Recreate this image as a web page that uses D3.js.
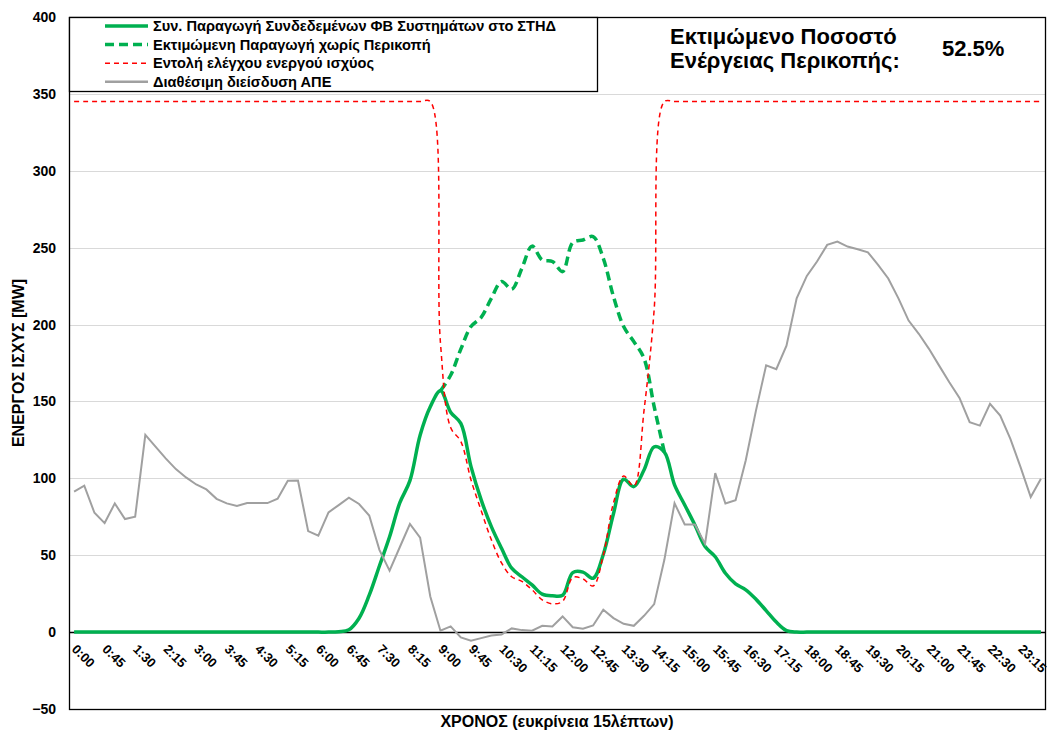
<!DOCTYPE html>
<html>
<head>
<meta charset="utf-8">
<script src="https://cdn.jsdelivr.net/npm/d3@7"></script>
<style>
    body { margin: 0; background: #fff; }
    svg text { font-family: Arial, "Liberation Sans", sans-serif; font-weight: bold; fill: #000; }
</style>
</head>
<body>
<div id="chart"></div>
<script>
// 96 quarter-hour values, 0:00 .. 23:45
const generation = [
    0, 0, 0, 0, 0, 0, 0, 0, 0, 0, 0, 0, 0, 0, 0, 0, 0, 0, 0, 0, 0, 0, 0, 0, 0, 0,
    0.3, 1.5, 9, 24, 43, 62, 84, 98.5, 128, 146.5, 157, 143, 135.7, 107.6, 86, 68.6, 54.5, 41.6, 36, 30.7,
    24.7, 23.6, 24, 38.7, 39, 35, 50.5, 77, 99.4, 94.6, 105.4, 120.5, 117, 95.7, 82.7, 69.7, 55.6, 49, 38.3, 31.4,
    27.5, 21.4, 14, 6.5, 1,
    0, 0, 0, 0, 0, 0, 0, 0, 0, 0, 0, 0, 0, 0, 0, 0, 0, 0, 0, 0, 0, 0, 0, 0, 0
]
const estimated = [
    null, null, null, null, null, null, null, null, null, null, null, null, null, null, null, null, null, null,
    null, null, null, null, null, null, null, null, null, null, null, null, null, null, null, null, null, null,
    157, 167, 184, 198.7, 204.7, 217, 228, 223, 236.6, 251, 242, 241, 234.4, 253.3, 255, 257.2, 243, 218.2,
    198.7, 188.9, 178, 146.6, 117,
    null, null, null, null, null, null, null, null, null, null, null, null, null, null, null, null, null, null, null,
    null, null, null, null, null, null, null, null, null, null, null, null, null, null, null, null, null, null
]
const command = [
    345, 345, 345, 345, 345, 345, 345, 345, 345, 345, 345, 345, 345, 345, 345, 345, 345, 345,
    345, 345, 345, 345, 345, 345, 345, 345, 345, 345, 345, 345, 345, 345, 345, 345, 345, 345,
    188, 133, 124, 99, 79, 60, 45, 36, 33, 27.5, 21, 18.4, 20, 35.5, 34.6, 30, 50, 84, 101.5, 95, 144, 210,
    345, 345, 345, 345, 345, 345, 345, 345, 345, 345, 345, 345, 345, 345, 345, 345, 345, 345, 345,
    345, 345, 345, 345, 345, 345, 345, 345, 345, 345, 345, 345, 345, 345, 345, 345, 345, 345, 345
]
const penetration = [
    91.3, 95.2, 77.6, 70.9, 83.7, 73.5, 75, 128.2, 120.6, 113, 106, 100.6, 96, 92.8, 86.7, 83.7,
    82, 83.9, 83.9, 83.9, 86.7, 98.4, 98.6, 65.7, 62.7, 77.9, 82.6, 87.4, 83.3, 75.8, 53.5, 40,
    55.2, 70.3, 61.5, 23.2, 0.9, 3.7, -3.5, -5.6, -3.9, -2.2, -1.5, 2.4, 1.3, 0.9, 4.1, 3.7,
    10.2, 3.2, 2.2, 4.3, 14.5, 9.1, 5.4, 4.1, 10.6, 18.2, 47, 83.8, 70, 70, 57.4, 103.4,
    83.6, 85.8, 111.8, 144, 173.5, 171, 186.3, 217, 231.6, 241, 251.8, 254, 250.7, 249, 247, 238.8,
    230, 217, 202.6, 194, 184.2, 173.3, 162.5, 152.3, 136.5, 134.3, 148.4, 140.8, 125.7, 107.3, 87.8, 99.7
]
const tickLabels = ["0:00", "0:45", "1:30", "2:15", "3:00", "3:45", "4:30", "5:15", "6:00", "6:45", "7:30",
    "8:15", "9:00", "9:45", "10:30", "11:15", "12:00", "12:45", "13:30", "14:15", "15:00", "15:45", "16:30",
    "17:15", "18:00", "18:45", "19:30", "20:15", "21:00", "21:45", "22:30", "23:15"]
const seriesNames = ["Συν. Παραγωγή Συνδεδεμένων ΦΒ Συστημάτων στο ΣΤΗΔ", "Εκτιμώμενη Παραγωγή χωρίς Περικοπή",
    "Εντολή ελέγχου ενεργού ισχύος", "Διαθέσιμη διείσδυση ΑΠΕ"]

const width = 1047;
const height = 733;
const plotL = 69, plotR = 1046, plotT = 17, plotB = 709;

const svg = d3.select("#chart").append("svg")
    .attr("width", width)
    .attr("height", height)

const x = d3.scalePoint().domain(d3.range(penetration.length)).range([plotL, plotR]).padding(0.5)
const y = d3.scaleLinear().domain([-50, 400]).range([plotB, plotT])

//gridlines
svg.append("g").selectAll("line").data(y.ticks(9)).join("line")
    .attr("x1", plotL).attr("x2", plotR)
    .attr("y1", d => Math.round(y(d)) + 0.5).attr("y2", d => Math.round(y(d)) + 0.5)
    .attr("stroke", "#d9d9d9")

//zero axis line
svg.append("line")
    .attr("x1", plotL).attr("x2", plotR)
    .attr("y1", Math.round(y(0)) + 0.5).attr("y2", Math.round(y(0)) + 0.5)
    .attr("stroke", "#000").attr("stroke-width", 1.3)

//y axis labels
svg.append("g")
    .attr("transform", `translate(${plotL}, 0)`)
    .call(d3.axisLeft(y).ticks(9).tickSize(0).tickPadding(13))
    .call(g => g.select(".domain").remove())
    .selectAll("text")
    .style("font-size", "14px")

//x tick labels, every 3rd quarter
svg.append("g").selectAll("text").data(tickLabels).join("text")
    .attr("transform", (d, i) => `translate(${x(i * 3) - 3}, ${650}) rotate(45)`)
    .style("font-size", "13px")
    .text(d => d)

const smooth = d3.curveCatmullRom.alpha(0.5)
const lineOf = (arr, curve) => d3.line()
    .defined(d => d !== null)
    .x((d, i) => x(i))
    .y(d => y(d))
    .curve(curve)(arr)

const plot = svg.append("g")
plot.append("path").attr("d", lineOf(generation, smooth))
    .attr("fill", "none").attr("stroke", "#00b050").attr("stroke-width", 3.5)
plot.append("path").attr("d", lineOf(estimated, smooth))
    .attr("fill", "none").attr("stroke", "#00b050").attr("stroke-width", 3.5)
    .attr("stroke-dasharray", "9,5")
plot.append("path").attr("d", lineOf(command, smooth))
    .attr("fill", "none").attr("stroke", "#ff0000").attr("stroke-width", 1.5)
    .attr("stroke-dasharray", "5,4")
plot.append("path").attr("d", lineOf(penetration, d3.curveLinear))
    .attr("fill", "none").attr("stroke", "#a0a0a0").attr("stroke-width", 2)

//plot border
svg.append("rect")
    .attr("x", plotL + 0.5).attr("y", plotT + 0.5)
    .attr("width", plotR - plotL - 1).attr("height", plotB - plotT)
    .attr("fill", "none").attr("stroke", "#000").attr("stroke-width", 1.3)

//legend
const legend = svg.append("g")
legend.append("rect")
    .attr("x", 69.5).attr("y", 17.5).attr("width", 528).attr("height", 74)
    .attr("fill", "#fff").attr("stroke", "#000").attr("stroke-width", 1.3)
const legendStyles = [
    { color: "#00b050", w: 3.5, dash: null },
    { color: "#00b050", w: 3.5, dash: "9,5" },
    { color: "#ff0000", w: 1.5, dash: "5,4" },
    { color: "#a0a0a0", w: 2.5, dash: null }
]
seriesNames.forEach((name, i) => {
    const ly = 26 + i * 18.6
    legend.append("line")
        .attr("x1", 105).attr("x2", 148).attr("y1", ly).attr("y2", ly)
        .attr("stroke", legendStyles[i].color).attr("stroke-width", legendStyles[i].w)
        .attr("stroke-dasharray", legendStyles[i].dash)
    legend.append("text")
        .attr("x", 153).attr("y", ly).attr("dy", "0.35em")
        .style("font-size", "14.6px")
        .text(name)
})

//curtailment annotation
svg.append("text").attr("x", 670).attr("y", 44).style("font-size", "22px").text("Εκτιμώμενο Ποσοστό")
svg.append("text").attr("x", 670).attr("y", 68).style("font-size", "22px").text("Ενέργειας Περικοπής:")
svg.append("text").attr("x", 942).attr("y", 56).style("font-size", "22px").text("52.5%")

//axis titles
svg.append("text")
    .attr("transform", `translate(24, ${(plotT + plotB) / 2}) rotate(-90)`)
    .attr("text-anchor", "middle")
    .style("font-size", "16px")
    .text("ΕΝΕΡΓΟΣ ΙΣΧΥΣ [MW]")
svg.append("text")
    .attr("x", 557).attr("y", 727)
    .attr("text-anchor", "middle")
    .style("font-size", "16px")
    .text("ΧΡΟΝΟΣ (ευκρίνεια 15λέπτων)")
</script>
</body>
</html>
